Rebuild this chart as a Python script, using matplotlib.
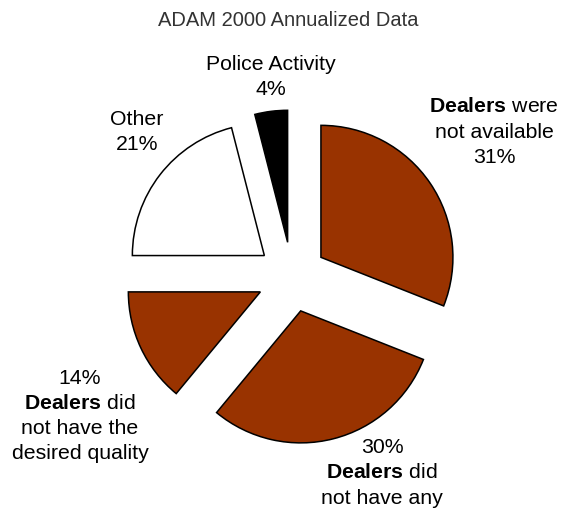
import matplotlib
matplotlib.use('Agg')
import matplotlib.pyplot as plt

plt.rcParams['font.family'] = ['Liberation Sans', 'DejaVu Sans']
plt.rcParams['mathtext.fontset'] = 'custom'
plt.rcParams['mathtext.rm'] = 'Liberation Sans'
plt.rcParams['mathtext.bf'] = 'Liberation Sans:bold'

# slices, clockwise from 12 o'clock
shares = [31, 30, 14, 21, 4]
slice_colors = ['#993300', '#993300', '#993300', 'white', 'black']
label_text = ['$\\mathbf{Dealers}$ were\nnot available\n31%',
              '30%\n$\\mathbf{Dealers}$ did\nnot have any',
              '14%\n$\\mathbf{Dealers}$ did\nnot have the\ndesired quality',
              'Other\n21%',
              'Police Activity\n4%']
# label block centres in pixels (x from left, y from top)
label_pos = [(494, 132), (382, 473), (80, 416), (137, 132), (271, 77)]

W, H = 566, 514
cx, cy, r = 292, 277, 132   # pie centre and radius in pixels

fig = plt.figure(figsize=(W / 100, H / 100), dpi=100)
ax = fig.add_axes([0, 0, 1, 1])
ax.pie(shares, colors=slice_colors, startangle=90, counterclock=False,
       explode=[0.265] * len(shares),
       wedgeprops=dict(edgecolor='black', linewidth=1.1))
ax.set_xlim(-cx / r, (W - cx) / r)
ax.set_ylim((cy - H) / r, cy / r)
ax.set_aspect('equal')
ax.axis('off')

for txt, (x, y) in zip(label_text, label_pos):
    fig.text(x / W, 1 - y / H, txt, ha='center', va='center',
             fontsize=15.3, linespacing=1.42, color='black')

fig.text(288 / W, 1 - 20 / H, 'ADAM 2000 Annualized Data', ha='center',
         va='center', fontsize=14.5, color='#333333')

fig.savefig('out.png', dpi=100)
